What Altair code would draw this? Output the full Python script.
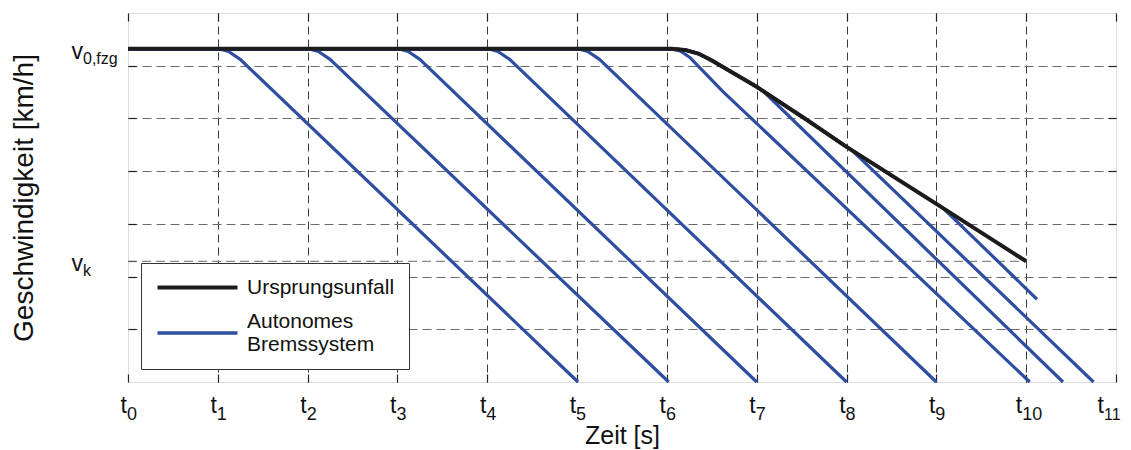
import altair as alt
import pandas as pd

FONT = "Liberation Sans"
V0 = 63.2   # v_0,fzg level
VK = 22.9   # v_k level

# Ursprungsunfall (black)
black_t = [0, 6.05, 6.2, 6.35, 6.5, 7.0, 7.56, 8.0, 9.0, 10.0]
black_v = [63.2, 63.2, 63.0, 62.3, 61.0, 56.0, 49.7, 44.6, 33.8, 22.9]

# Autonomes Bremssystem (blue), one list pair per run
blue1_t = [0, 1.02, 1.12, 1.25, 5.01]
blue1_v = [63.2, 63.2, 62.7, 61.2, 0]
blue2_t = [0, 2.02, 2.12, 2.25, 6.02]
blue2_v = [63.2, 63.2, 62.7, 61.2, 0]
blue3_t = [0, 3.02, 3.12, 3.25, 7.0]
blue3_v = [63.2, 63.2, 62.7, 61.2, 0]
blue4_t = [0, 4.02, 4.12, 4.25, 8.0]
blue4_v = [63.2, 63.2, 62.7, 61.2, 0]
blue5_t = [0, 5.02, 5.12, 5.25, 9.0]
blue5_v = [63.2, 63.2, 62.7, 61.2, 0]
blue6_t = [0, 6.05, 6.15, 6.26, 6.63, 10.04]
blue6_v = [63.2, 63.2, 62.8, 61.5, 55.0, 0]
blue7_t = [0, 6.05, 6.2, 6.35, 6.5, 7.0, 7.07, 10.41]
blue7_v = [63.2, 63.2, 63.0, 62.3, 61.0, 56.0, 55.2, 0]
blue8_t = [0, 6.05, 6.2, 6.35, 6.5, 7.0, 7.56, 8.0, 8.07, 10.75]
blue8_v = [63.2, 63.2, 63.0, 62.3, 61.0, 56.0, 49.7, 44.6, 43.8, 0]
blue9_t = [0, 6.05, 6.2, 6.35, 6.5, 7.0, 7.56, 8.0, 9.0, 9.08, 10.12]
blue9_v = [63.2, 63.2, 63.0, 62.3, 61.0, 56.0, 49.7, 44.6, 33.8, 32.9, 15.7]

series_names = ["Ursprungsunfall", "Autonomes Bremssystem"]
series_colors = ["#1c1c1c", "#2f4ea2"]

x_ticks = list(range(12))
x_subs = [str(i) for i in x_ticks]
y_grid = [10, 20, 30, 40, 50, 60]
y_label_vals = [V0, VK]
y_label_subs = ["0,fzg", "k"]

# ---- tables ----
black_df = pd.DataFrame({"t": black_t, "v": black_v, "series": series_names[0], "id": "b0"})
blue_runs = [(blue1_t, blue1_v), (blue2_t, blue2_v), (blue3_t, blue3_v), (blue4_t, blue4_v),
             (blue5_t, blue5_v), (blue6_t, blue6_v), (blue7_t, blue7_v), (blue8_t, blue8_v),
             (blue9_t, blue9_v)]
blue_df = pd.concat([pd.DataFrame({"t": t, "v": v, "series": series_names[1], "id": f"a{i}"})
                     for i, (t, v) in enumerate(blue_runs)], ignore_index=True)
vk_df = pd.DataFrame({"t0": [0], "t1": [black_t[-1]], "v": [VK]})
xlab_df = pd.DataFrame({"t": x_ticks, "sub": x_subs, "base": 0})
ylab_df = pd.DataFrame({"v": y_label_vals, "sub": y_label_subs, "base": 0})

x_scale = alt.Scale(domain=[0, 11], nice=False, zero=False)
y_scale = alt.Scale(domain=[0, 70], nice=False, zero=False)
color_scale = alt.Scale(domain=series_names, range=series_colors)

GRID = dict(grid=True, gridWidth=1, gridOpacity=1, ticks=False, labels=False, domain=False)
TICK = dict(grid=False, ticks=True, tickSize=8, tickColor="#222222", tickWidth=1.2,
            labels=False, domain=False, offset=-8, title=None)

grid_x = alt.Axis(values=list(range(1, 11)), title="Zeit [s]", titleFont=FONT, titleFontSize=25,
                  titleFontWeight="normal", titleColor="#111111", titlePadding=41,
                  gridColor="#3a3a3a", gridDash=[8, 5], **GRID)
grid_y = alt.Axis(values=y_grid, title="Geschwindigkeit [km/h]", titleFont=FONT, titleFontSize=28,
                  titleFontWeight="normal", titleColor="#111111", titlePadding=90,
                  gridColor="#6a6a6a", gridDash=[9, 5], **GRID)

legend = alt.Legend(
    title=None, orient="bottom-left", offset=13, padding=14, rowPadding=12,
    fillColor="white", strokeColor="#333333",
    symbolType=alt.ExprRef(expr="datum.value == 'Ursprungsunfall' ? 'M-4,0H4' : 'M-4,1.15H4'"),
    symbolSize=400,
    symbolStrokeWidth=alt.ExprRef(expr="datum.value == 'Ursprungsunfall' ? 4 : 3.4"),
    symbolOffset=32,
    labelFont=FONT, labelFontSize=21, labelColor="#111111", labelOffset=39,
    labelLimit=400, labelBaseline="middle",
    labelExpr="datum.label == 'Autonomes Bremssystem' ? ['Autonomes', 'Bremssystem'] : datum.label",
)

vk_rule = alt.Chart(vk_df).mark_rule(strokeDash=[9, 5], color="#6a6a6a", strokeWidth=1).encode(
    x=alt.X("t0:Q", scale=x_scale, axis=grid_x),
    x2="t1:Q",
    y=alt.Y("v:Q", scale=y_scale, axis=grid_y),
)

blue = alt.Chart(blue_df).mark_line(strokeWidth=3.2, strokeJoin="round").encode(
    x=alt.X("t:Q", scale=x_scale, axis=alt.Axis(orient="bottom", values=x_ticks, **TICK)),
    y=alt.Y("v:Q", scale=y_scale, axis=alt.Axis(orient="left", values=y_grid + y_label_vals, **TICK)),
    color=alt.Color("series:N", scale=color_scale, legend=legend),
    detail="id:N",
)

black = alt.Chart(black_df).mark_line(strokeWidth=4, strokeJoin="round").encode(
    x=alt.X("t:Q", scale=x_scale, axis=alt.Axis(orient="top", values=x_ticks, **TICK)),
    y=alt.Y("v:Q", scale=y_scale, axis=alt.Axis(orient="right", values=y_grid, **TICK)),
    color=alt.Color("series:N", scale=color_scale, legend=legend),
    detail="id:N",
)

def xlabels(cond, shift, subsize):
    base = alt.Chart(xlab_df).transform_filter(cond)
    enc = dict(x=alt.X("t:Q", scale=x_scale, axis=None), y=alt.Y("base:Q", scale=y_scale, axis=None))
    main = base.mark_text(text="t", font=FONT, fontSize=23, align="right", baseline="alphabetic",
                          dx=shift, dy=31, color="#111111").encode(**enc)
    sub = base.mark_text(font=FONT, fontSize=subsize, align="left", baseline="alphabetic",
                         dx=shift, dy=38, color="#111111").encode(text="sub:N", **enc)
    return [main, sub]

yenc = dict(x=alt.X("base:Q", scale=x_scale, axis=None), y=alt.Y("v:Q", scale=y_scale, axis=None))
v_main = alt.Chart(ylab_df).mark_text(text="v", font=FONT, fontSize=23, align="right",
                                      baseline="alphabetic", dx=-45, dy=10,
                                      color="#111111").encode(**yenc)
v_sub = alt.Chart(ylab_df).mark_text(font=FONT, fontSize=16, align="left", baseline="alphabetic",
                                     dx=-45, dy=15, color="#111111").encode(text="sub:N", **yenc)

chart = alt.layer(
    vk_rule, blue, black,
    *xlabels("datum.t < 10", -1, 18),
    *xlabels("datum.t == 10", -4, 18),
    *xlabels("datum.t == 11", -12, 16),
    v_main, v_sub
).resolve_axis(x="independent", y="independent").properties(
    width=988, height=369,
    autosize=alt.AutoSizeParams(type="none"),
    padding={"left": 120, "top": 5, "right": 7, "bottom": 68},
).configure_view(stroke="#222222", strokeWidth=1.5).configure(background="white")

chart.save("out.html", embed_options={"renderer": "svg", "actions": False})
